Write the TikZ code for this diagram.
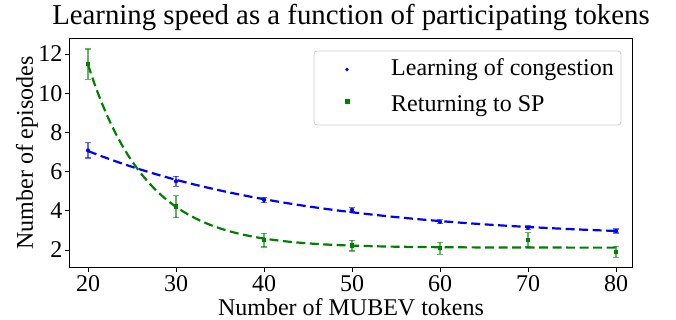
\documentclass[tikz,border=0pt]{standalone}
\usepackage{fontspec}
\setmainfont{Liberation Serif}
\definecolor{mblue}{RGB}{0,0,255}
\definecolor{mgreen}{RGB}{0,128,0}
\tikzset{
  lbl/.style={font=\fontsize{24}{28}\selectfont, inner sep=0pt},
  ttl/.style={font=\fontsize{28.8}{34}\selectfont, inner sep=0pt},
  frame/.style={draw=black, line width=1pt},
  tickmark/.style={draw=black, line width=0.9pt},
  fitline/.style={line width=2.2pt, dash pattern=on 9pt off 4.5pt},
  ebar/.style={line width=1.2pt, opacity=0.6},
}
\newcommand{\eb}[4]{% x, y, err, color
  \draw[ebar,#4] ({px(#1)},{py(#2-#3)}) -- ({px(#1)},{py(#2+#3)});
  \draw[ebar,#4] ({px(#1)-3},{py(#2-#3)}) -- ({px(#1)+3},{py(#2-#3)});
  \draw[ebar,#4] ({px(#1)-3},{py(#2+#3)}) -- ({px(#1)+3},{py(#2+#3)});
}
\newcommand{\bdot}[2]{\fill[mblue] ({px(#1)},{py(#2)}) circle (2.1pt);}
\newcommand{\gsq}[2]{\fill[mgreen] ({px(#1)-2.2},{py(#2)-2.2}) rectangle ++(4.4,4.4);}
\begin{document}
\begin{tikzpicture}[x=1pt,y=-1pt,
  declare function={px(\x)=88+(\x-20)*8.8; py(\y)=250-(\y-2)*19.6;
    fb(\x)=2.55+4.5*exp(-0.0395*(\x-20));
    fg(\x)=2.12+9.33*exp(-0.150*(\x-20));}]
\useasboundingbox[fill=white] (0,0) rectangle (676,320);
% title
\node[ttl, anchor=base] (title) at (351,25) {Learning speed as a function of participating tokens};
% axes frame
\draw[frame] (69.5,39) rectangle (632,267);
% x ticks
\foreach \v in {20,30,...,80}{
  \draw[tickmark] ({px(\v)},267) -- ({px(\v)},271.5);
  \node[lbl, anchor=base] at ({px(\v)},291) {\v};
}
% y ticks
\foreach \v in {2,4,...,12}{
  \draw[tickmark] (69.5,{py(\v)}) -- (65,{py(\v)});
  \node[lbl, anchor=east] at (62.5,{py(\v)}) {\v};
}
\node[lbl, anchor=base] (xlabel) at (351,315) {Number of MUBEV tokens};
\node[lbl, rotate=90, anchor=center] (ylabel) at (27,153) {Number of episodes};
% fitted curves
\draw[fitline, mblue] plot[domain=20:80, samples=80] ({px(\x)},{py(fb(\x))});
\draw[fitline, mgreen] plot[domain=20:80, samples=80] ({px(\x)},{py(fg(\x))});
% error bars blue
\eb{20}{7.08}{0.39}{mblue}
\eb{30}{5.51}{0.25}{mblue}
\eb{40}{4.55}{0.14}{mblue}
\eb{50}{4.05}{0.11}{mblue}
\eb{60}{3.44}{0.10}{mblue}
\eb{70}{3.14}{0.10}{mblue}
\eb{80}{2.97}{0.10}{mblue}
% error bars green
\eb{20}{11.48}{0.78}{mgreen}
\eb{30}{4.21}{0.56}{mgreen}
\eb{40}{2.50}{0.35}{mgreen}
\eb{50}{2.22}{0.27}{mgreen}
\eb{60}{2.09}{0.30}{mgreen}
\eb{70}{2.52}{0.37}{mgreen}
\eb{80}{1.91}{0.28}{mgreen}
% markers
\foreach \a/\b in {20/7.08,30/5.51,40/4.55,50/4.05,60/3.44,70/3.14,80/2.97}{\bdot{\a}{\b}}
\foreach \a/\b in {20/11.48,30/4.21,40/2.50,50/2.22,60/2.09,70/2.52,80/1.91}{\gsq{\a}{\b}}
% legend
\draw[draw=black!20, fill=white, line width=0.8pt, rounded corners=3pt] (314,51) rectangle (621,125);
\fill[mblue] (347,69.5) circle (1.8pt);
\fill[mgreen] (344.5,99.5) rectangle ++(5,5);
\node[lbl, anchor=base west] (leg1) at (391,76) {Learning of congestion};
\node[lbl, anchor=base west] (leg2) at (391,112) {Returning to SP};
\end{tikzpicture}
\end{document}
